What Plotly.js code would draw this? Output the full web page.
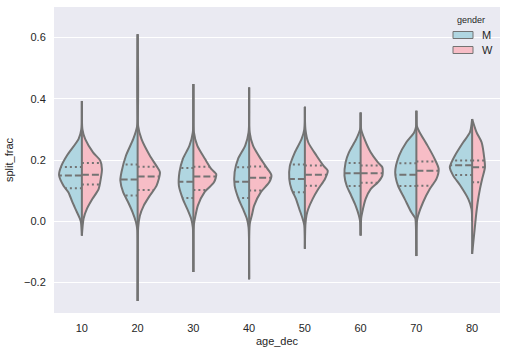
<!DOCTYPE html>
<html>
<head>
<meta charset="utf-8">
<script src="https://cdn.plot.ly/plotly-3.0.1.min.js"></script>
<style>html,body{margin:0;padding:0;background:#fff;}#chart{width:507px;height:353px;}</style>
</head>
<body>
<div id="chart"></div>
<script>
// Categories
const ageGroups = ['10', '20', '30', '40', '50', '60', '70', '80'];
const genders = ['M', 'W'];

// Density outlines: [split_frac value, half-width in category units]
const shapeM = [
  [[-0.047,0],[0.0,0.02],[0.03,0.09],[0.062,0.17],[0.094,0.24],[0.116,0.33],[0.151,0.41],[0.18,0.37],[0.214,0.27],[0.268,0.06],[0.30,0.01],[0.393,0]],
  [[-0.261,0],[-0.03,0.005],[-0.003,0.03],[0.029,0.09],[0.062,0.17],[0.095,0.26],[0.133,0.31],[0.16,0.29],[0.214,0.21],[0.268,0.08],[0.31,0.01],[0.611,0]],
  [[-0.166,0],[-0.02,0.01],[0.008,0.04],[0.04,0.11],[0.073,0.19],[0.116,0.26],[0.16,0.25],[0.203,0.19],[0.247,0.07],[0.29,0.01],[0.448,0]],
  [[-0.19,0],[-0.02,0.01],[0.008,0.04],[0.04,0.11],[0.073,0.19],[0.116,0.26],[0.16,0.26],[0.203,0.2],[0.247,0.07],[0.29,0.01],[0.437,0]],
  [[-0.09,0],[-0.014,0.01],[0.008,0.04],[0.04,0.10],[0.073,0.16],[0.105,0.24],[0.138,0.28],[0.18,0.27],[0.225,0.18],[0.268,0.06],[0.30,0.01],[0.374,0]],
  [[-0.047,0],[0.0,0.01],[0.018,0.03],[0.051,0.09],[0.084,0.17],[0.116,0.25],[0.149,0.29],[0.192,0.27],[0.225,0.21],[0.268,0.08],[0.30,0.01],[0.355,0]],
  [[-0.114,0],[-0.01,0.01],[0.01,0.02],[0.029,0.09],[0.073,0.21],[0.116,0.33],[0.16,0.38],[0.214,0.31],[0.258,0.18],[0.29,0.04],[0.31,0.005],[0.361,0]],
  [[0.0,0],[0.04,0.01],[0.073,0.07],[0.116,0.21],[0.149,0.34],[0.176,0.40],[0.214,0.31],[0.258,0.16],[0.29,0.04],[0.334,0]]
];
const shapeW = [
  [[-0.047,0],[0.008,0.03],[0.04,0.09],[0.073,0.19],[0.105,0.30],[0.14,0.34],[0.17,0.36],[0.198,0.33],[0.225,0.2],[0.268,0.06],[0.30,0.01],[0.393,0]],
  [[-0.261,0],[-0.02,0.01],[0.018,0.04],[0.051,0.11],[0.084,0.22],[0.116,0.34],[0.16,0.40],[0.18,0.34],[0.214,0.22],[0.268,0.07],[0.31,0.01],[0.611,0]],
  [[-0.166,0],[-0.01,0.01],[0.02,0.04],[0.051,0.08],[0.095,0.20],[0.127,0.37],[0.154,0.41],[0.171,0.32],[0.203,0.21],[0.247,0.07],[0.29,0.01],[0.448,0]],
  [[-0.19,0],[-0.01,0.01],[0.02,0.05],[0.051,0.09],[0.095,0.21],[0.127,0.36],[0.15,0.40],[0.171,0.33],[0.203,0.21],[0.247,0.07],[0.29,0.01],[0.437,0]],
  [[-0.09,0],[-0.01,0.01],[0.02,0.03],[0.04,0.06],[0.073,0.14],[0.105,0.24],[0.138,0.36],[0.165,0.41],[0.18,0.34],[0.214,0.21],[0.258,0.06],[0.30,0.01],[0.374,0]],
  [[-0.047,0],[0.01,0.01],[0.03,0.03],[0.073,0.09],[0.105,0.18],[0.127,0.31],[0.149,0.39],[0.176,0.39],[0.192,0.31],[0.225,0.18],[0.268,0.07],[0.30,0.01],[0.355,0]],
  [[-0.114,0],[0.0,0.01],[0.018,0.03],[0.062,0.12],[0.105,0.24],[0.138,0.36],[0.171,0.40],[0.203,0.33],[0.247,0.2],[0.29,0.06],[0.31,0.01],[0.361,0]],
  [[-0.107,0],[-0.036,0.04],[0.018,0.07],[0.062,0.10],[0.105,0.14],[0.138,0.18],[0.176,0.23],[0.203,0.22],[0.258,0.17],[0.29,0.08],[0.334,0]]
];

// Quartiles [Q1, median, Q3]
const quartM = [[0.108,0.149,0.177],[0.084,0.136,0.185],[0.076,0.129,0.174],[0.076,0.129,0.176],[0.095,0.138,0.185],[0.115,0.157,0.19],[0.115,0.152,0.189],[0.151,0.183,0.198]];
const quartW = [[0.120,0.152,0.190],[0.102,0.146,0.178],[0.102,0.146,0.178],[0.100,0.142,0.179],[0.116,0.152,0.182],[0.126,0.157,0.182],[0.116,0.165,0.195],[0.127,0.176,0.198]];

const yTicks = [-0.2, 0.0, 0.2, 0.4, 0.6];

const colM = '#B0D6E1';
const colW = '#F7BDC6';
const outline = '#737373';
const FONT = 'Liberation Sans, Arial, sans-serif';
const TXT = '#262626';

function widthAt(prof, y) {
  for (let i = 0; i < prof.length - 1; i++) {
    const [y0, w0] = prof[i], [y1, w1] = prof[i + 1];
    if (y >= y0 && y <= y1) return w0 + (w1 - w0) * (y - y0) / (y1 - y0);
  }
  return 0;
}

const fillTraces = [];
const lineTraces = [];
[[shapeM, quartM, colM, -1, 'M'], [shapeW, quartW, colW, 1, 'W']].forEach(([shapes, quarts, col, sign, name]) => {
  shapes.forEach((prof, i) => {
    const xs = prof.map(p => i + sign * p[1]);
    const ys = prof.map(p => p[0]);
    fillTraces.push({
      type: 'scatter', mode: 'lines', x: xs, y: ys, fill: 'toself', fillcolor: col,
      line: {color: outline, width: 2, shape: 'spline', smoothing: 0.7},
      name: name, showlegend: false, hoverinfo: 'skip'
    });
    quarts[i].forEach((q, k) => {
      const w = widthAt(prof, q);
      lineTraces.push({
        type: 'scatter', mode: 'lines', x: [i, i + sign * w], y: [q, q],
        line: {color: outline, width: 2, dash: k === 1 ? '7px,3px' : '2px,3px'},
        showlegend: false, hoverinfo: 'skip'
      });
    });
  });
});
// center line of each split violin
ageGroups.forEach((_, i) => {
  const lo = Math.min(shapeM[i][0][0], shapeW[i][0][0]);
  const hi = Math.max(shapeM[i][shapeM[i].length - 1][0], shapeW[i][shapeW[i].length - 1][0]);
  lineTraces.push({
    type: 'scatter', mode: 'lines', x: [i, i], y: [lo, hi],
    line: {color: outline, width: 2}, showlegend: false, hoverinfo: 'skip'
  });
});

// legend drawn as patches + labels (seaborn style)
const legendColors = [colM, colW];
const shapes = [];
const annotations = [{
  xref: 'paper', yref: 'paper', x: (471 - 54) / 446, y: (313 - 20) / 306,
  text: 'gender', showarrow: false, font: {size: 9, color: TXT, family: FONT}, xanchor: 'center', yanchor: 'middle'
}];
genders.forEach((g, k) => {
  const cy = 35 + k * 15;
  shapes.push({
    type: 'rect', xref: 'paper', yref: 'paper',
    x0: (453 - 54) / 446, x1: (473 - 54) / 446,
    y0: (313 - (cy - 3.5)) / 306, y1: (313 - (cy + 3.5)) / 306,
    fillcolor: legendColors[k], line: {color: outline, width: 1}
  });
  annotations.push({
    xref: 'paper', yref: 'paper', x: (480 - 54) / 446, y: (313 - cy) / 306,
    text: g, showarrow: false, font: {size: 11, color: TXT, family: FONT}, xanchor: 'left', yanchor: 'middle'
  });
});

const layout = {
  width: 507, height: 353,
  margin: {l: 54, r: 7, t: 7, b: 40},
  paper_bgcolor: '#ffffff', plot_bgcolor: '#EAEAF2',
  font: {family: FONT, size: 11, color: TXT},
  showlegend: false,
  shapes: shapes, annotations: annotations,
  xaxis: {
    range: [-0.5, 7.5], tickvals: ageGroups.map((_, i) => i), ticktext: ageGroups,
    showgrid: false, zeroline: false, showline: false,
    ticks: 'outside', ticklen: 5, tickcolor: 'rgba(0,0,0,0)',
    title: {text: 'age_dec', font: {size: 11, color: TXT}, standoff: 4}
  },
  yaxis: {
    range: [-0.3, 0.7], tickvals: yTicks, tickformat: '.1f',
    showgrid: true, gridcolor: '#ffffff', gridwidth: 1, zeroline: false, showline: false,
    ticks: 'outside', ticklen: 5, tickcolor: 'rgba(0,0,0,0)',
    title: {text: 'split_frac', font: {size: 11, color: TXT}, standoff: 8}
  }
};

Plotly.newPlot('chart', fillTraces.concat(lineTraces), layout, {staticPlot: true, displayModeBar: false});
</script>
</body>
</html>
